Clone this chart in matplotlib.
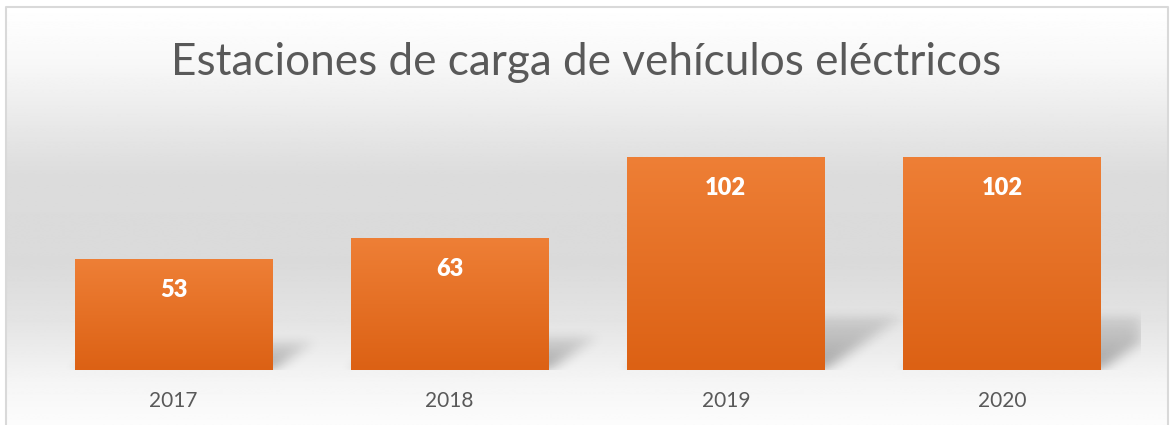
import matplotlib
matplotlib.use("Agg")
import matplotlib.pyplot as plt
import numpy as np
from matplotlib.colors import LinearSegmentedColormap

# data
years = ['2017', '2018', '2019', '2020']
stations = [53, 63, 102, 102]

title = 'Estaciones de carga de vehículos eléctricos'
font = 'Lato'

fig = plt.figure(figsize=(11.71, 4.25), dpi=100)

# background gradient for the chart area
bg = fig.add_axes([0, 0, 1, 1], zorder=0)
bg.set_xlim(0, 1171)
bg.set_ylim(425, 0)
bg.axis('off')
stops_y = [0, 7, 60, 120, 170, 260, 320, 380, 425]
stops_c = [255, 254, 247, 232, 220, 218, 228, 245, 252]
yy = np.arange(425)
col = np.interp(yy, stops_y, stops_c) / 255.0
img = np.repeat(col[:, None], 2, axis=1)
bg.imshow(img, cmap='gray', vmin=0, vmax=1, extent=[6, 1168, 425, 7],
          aspect='auto', interpolation='bilinear')
bg.plot([6, 6, 1168, 1168], [425, 7, 7, 425], color='#d9d9d9', lw=1.5)

bg.text(586, 62, title, ha='center', va='center', fontsize=31.8,
        color='#595959', family=font)

# plot area
ax = fig.add_axes([35.5 / 1171, 55 / 425, 1104.5 / 1171, 251 / 425], zorder=1)
ax.set_xlim(-0.5, 3.5)
ax.set_ylim(0, 120)
ax.patch.set_alpha(0)
for s in ax.spines.values():
    s.set_visible(False)
ax.set_yticks([])
x = np.arange(len(years))
ax.set_xticks(x)
ax.set_xticklabels(years, fontsize=15, color='#595959', family=font)
ax.tick_params(axis='x', length=0, pad=15)

width = 0.714
orange = LinearSegmentedColormap.from_list('o', ['#dc6114', '#ee7f36'])
grad = np.linspace(0, 1, 256)[:, None]

# soft perspective shadows: sheared bar footprint, blurred
nx, ny = 1105, 260
gx = np.linspace(-0.5, 3.5, nx)
gy = np.linspace(-4, 120, ny)
GX, GY = np.meshgrid(gx, gy)
shadow = np.zeros_like(GX)
shear = 0.36 * 2.09 / 276
for xi, v in zip(x, stations):
    x0, x1 = xi - width / 2, xi + width / 2
    hs = v * 0.25
    f = GY / hs
    dx = v * shear
    inside = (f >= 0) & (f <= 1) & (GX >= x0 + f * dx) & (GX <= x1 + f * dx)
    shadow = np.maximum(shadow, np.where(inside, 0.32 * (1 - 0.7 * f), 0))


def blur(a, sigma, axis):
    r = int(3 * sigma)
    k = np.exp(-0.5 * (np.arange(-r, r + 1) / sigma) ** 2)
    k /= k.sum()
    return np.apply_along_axis(lambda m: np.convolve(m, k, mode='same'), axis, a)


shadow = blur(blur(shadow, 7, 1), 5, 0)
rgba = np.zeros((ny, nx, 4))
rgba[..., 3] = shadow
ax.imshow(rgba, extent=[-0.5, 3.5, -4, 120], origin='lower', aspect='auto',
          zorder=2, interpolation='bilinear')

bars = ax.bar(x, stations, width=width, color='none', zorder=3)
for b, v in zip(bars, stations):
    x0 = b.get_x()
    im = ax.imshow(grad, cmap=orange, extent=[x0, x0 + width, 0, v],
                   aspect='auto', origin='lower', zorder=3,
                   interpolation='bilinear')
    im.set_clip_path(b)
    ax.annotate(str(v), (b.get_x() + width / 2, v), xytext=(0, -22.5),
                textcoords='offset points', ha='center', va='center',
                fontsize=17, fontweight='heavy', color='white', family=font,
                zorder=5)

ax.set_xlim(-0.5, 3.5)
ax.set_ylim(0, 120)

fig.savefig('out.png', dpi=100)
